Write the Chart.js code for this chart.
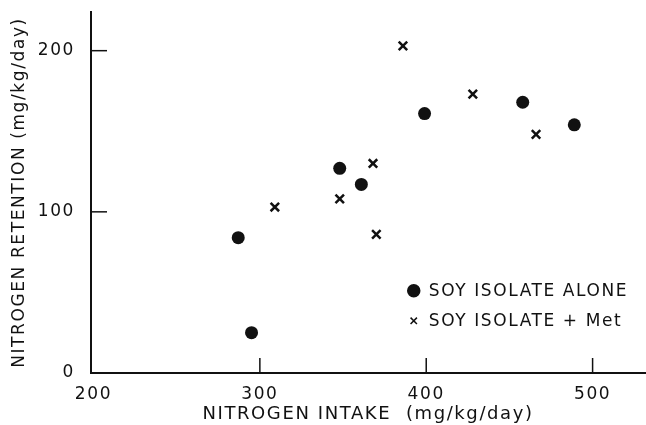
<!DOCTYPE html>
<html>
<head>
<meta charset="utf-8">
<script src="https://cdn.jsdelivr.net/npm/chart.js@4.4.1/dist/chart.umd.min.js"></script>
<style>
  html, body { margin: 0; padding: 0; background: #fff; }
  #wrap { width: 646px; height: 425px; position: relative; }
</style>
</head>
<body>
<div id="wrap"><canvas id="myScatter"></canvas></div>
<script>
// Dữ liệu
var aloneIntake = [287, 295, 348, 361, 399, 458, 489];
var aloneRetention = [84, 25, 127, 117, 161, 168, 154];
var metIntake = [309, 348, 368, 370, 386, 428, 466];
var metRetention = [103, 108, 130, 86, 203, 173, 148];
var xTicks = [200, 300, 400, 500];
var yTicks = [0, 100, 200];
var legendLabels = ["SOY ISOLATE ALONE", "SOY ISOLATE + Met"];

var FONT = "'DejaVu Sans', sans-serif";
var INK = "#111";
var SPACING = "1.6px";

function toPoints(xs, ys) {
  return xs.map(function (x, i) {
    return { x: x, y: ys[i] };
  });
}

// Giãn chữ giống bản in gốc
var letterSpacing = {
  id: "letterSpacing",
  beforeUpdate: function (chart) {
    chart.ctx.letterSpacing = SPACING;
  },
  beforeDraw: function (chart) {
    chart.ctx.letterSpacing = SPACING;
  },
};

// Kéo trục X ra sát mép phải như bản gốc
var stretchRight = {
  id: "stretchRight",
  afterLayout: function (chart) {
    var right = chart.width - 1,
      xs = chart.scales.x;
    chart.chartArea.right = right;
    chart.chartArea.width = right - chart.chartArea.left;
    xs.right = right;
    xs.width = right - xs.left;
    xs.configure();
  },
};

// Vạch chia hướng vào trong + chú thích bên trong vùng vẽ
var innerTicks = {
  id: "innerTicks",
  afterDraw: function (chart) {
    var c = chart.ctx,
      a = chart.chartArea,
      xs = chart.scales.x,
      ys = chart.scales.y;
    c.save();
    c.strokeStyle = INK;
    c.lineWidth = 1.5;
    xTicks.slice(1).forEach(function (v) {
      var px = xs.getPixelForValue(v);
      c.beginPath();
      c.moveTo(px, a.bottom);
      c.lineTo(px, a.bottom - 15);
      c.stroke();
    });
    yTicks.slice(1).forEach(function (v) {
      var py = ys.getPixelForValue(v);
      c.beginPath();
      c.moveTo(a.left, py);
      c.lineTo(a.left + 16, py);
      c.stroke();
    });

    // chú thích
    var lx = xs.getPixelForValue(392.5),
      ly = ys.getPixelForValue(51);
    c.font = "17px " + FONT;
    c.letterSpacing = SPACING;
    c.textBaseline = "middle";
    chart.data.datasets.forEach(function (ds, i) {
      var yy = ly + i * 30;
      c.fillStyle = INK;
      c.strokeStyle = INK;
      Chart.helpers.drawPoint(
        c,
        {
          pointStyle: ds.pointStyle,
          radius: i === 0 ? 6 : 4.5,
          borderWidth: 2,
          rotation: 0,
        },
        lx,
        yy
      );
      c.fillStyle = INK;
      c.fillText(legendLabels[i], lx + 15, yy + 1);
    });
    c.restore();
  },
};

var ctx = document.getElementById("myScatter");
new Chart(ctx, {
  type: "scatter",
  data: {
    datasets: [
      {
        label: legendLabels[0],
        data: toPoints(aloneIntake, aloneRetention),
        pointStyle: "circle",
        pointRadius: 6.5,
        backgroundColor: INK,
        borderColor: INK,
        borderWidth: 0,
      },
      {
        label: legendLabels[1],
        data: toPoints(metIntake, metRetention),
        pointStyle: "crossRot",
        pointRadius: 6,
        backgroundColor: INK,
        borderColor: INK,
        borderWidth: 2.5,
      },
    ],
  },
  options: {
    responsive: true,
    maintainAspectRatio: false,
    animation: false,
    layout: {
      padding: { left: 0, right: 1, top: 12, bottom: 0 },
    },
    scales: {
      x: {
        type: "linear",
        min: 198.5,
        max: 531.5,
        afterBuildTicks: function (s) {
          s.ticks = xTicks.map(function (v) {
            return { value: v };
          });
        },
        afterFit: function (s) {
          s.height = 52;
          s.paddingLeft = 0;
          s.paddingRight = 0;
        },
        grid: { display: false },
        border: { display: true, color: INK, width: 2 },
        ticks: {
          color: INK,
          font: { family: FONT, size: 17 },
          padding: 3,
          maxRotation: 0,
        },
        title: {
          display: true,
          text: "NITROGEN INTAKE  (mg/kg/day)",
          color: INK,
          font: { family: FONT, size: 18 },
          padding: { top: 0, bottom: 0 },
        },
      },
      y: {
        type: "linear",
        min: 0,
        max: 224,
        afterBuildTicks: function (s) {
          s.ticks = yTicks.map(function (v) {
            return { value: v };
          });
        },
        afterFit: function (s) {
          s.width = 91;
          s.paddingTop = 0;
          s.paddingBottom = 0;
        },
        grid: { display: false },
        border: { display: true, color: INK, width: 2 },
        ticks: {
          color: INK,
          font: { family: FONT, size: 17 },
          padding: 8,
        },
        title: {
          display: true,
          text: "NITROGEN RETENTION (mg/kg/day)",
          color: INK,
          font: { family: FONT, size: 17 },
          padding: { top: 9, bottom: 0 },
        },
      },
    },
    plugins: {
      legend: { display: false },
      tooltip: { enabled: false },
    },
  },
  plugins: [letterSpacing, stretchRight, innerTicks],
});
</script>
</body>
</html>
